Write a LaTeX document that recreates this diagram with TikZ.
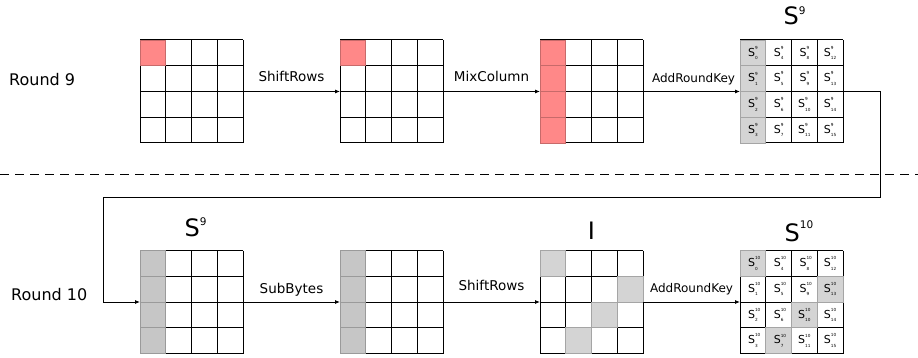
\documentclass[tikz,border=0pt]{standalone}
\usepackage{fontspec}
\setmainfont{DejaVu Sans}
\usetikzlibrary{arrows.meta}
\definecolor{redc}{RGB}{255,136,136}
\definecolor{grayA}{RGB}{198,198,198}
\definecolor{grayB}{RGB}{212,212,212}
\newcommand\cs[2]{S\rlap{\raisebox{0.62em}{\fontsize{4.2}{4.5}\selectfont #1}}\raisebox{-0.32em}{\fontsize{4.2}{4.5}\selectfont #2}}
\newcommand\gridlines[1]{%
  \begin{scope}[shift={(#1.north west)}]
    \foreach \i in {0,...,4} {
      \draw[cellline] (\i*25.75,0) -- (\i*25.75,103);
      \draw[cellline] (0,\i*25.75) -- (103,\i*25.75);
    }
  \end{scope}}
\newcommand\fillcell[4]{%
  \begin{scope}[shift={(#1.north west)}]
    \draw[fill=#4, draw=#4!78!black, line width=0.8pt] (#2*25.75,#3*25.75) rectangle ++(25.75,25.75);
  \end{scope}}
\begin{document}
\begin{tikzpicture}[x=1pt,y=-1pt,
  gridbox/.style={minimum size=103pt, inner sep=0pt, outer sep=0pt},
  cellline/.style={line width=1pt, black},
  conn/.style={line width=0.8pt, -{Latex[length=5pt,width=4pt]}},
  oplabel/.style={font=\fontsize{13.5}{14}\selectfont, anchor=base, inner sep=0pt},
  keylabel/.style={font=\fontsize{12}{13}\selectfont, anchor=base, inner sep=0pt},
  roundlabel/.style={font=\fontsize{16}{17}\selectfont, anchor=base west, inner sep=0pt},
  title/.style={font=\fontsize{24}{25}\selectfont, anchor=base west, inner sep=0pt},
  celltext/.style={font=\fontsize{11}{11}\selectfont, inner sep=0pt},
  sep/.style={line width=0.9pt, dash pattern=on 9pt off 6pt}
]
\path[use as bounding box] (0,0) rectangle (918,358);

% grid nodes
\node[gridbox] (g1) at (191.5,91.5) {};
\node[gridbox] (g2) at (391.5,91.5) {};
\node[gridbox] (g3) at (591.5,91.5) {};
\node[gridbox] (g4) at (791.5,91.5) {};
\node[gridbox] (g5) at (191.5,302) {};
\node[gridbox] (g6) at (391.5,302) {};
\node[gridbox] (g7) at (591.5,302) {};
\node[gridbox] (g8) at (791.5,302) {};

\foreach \g in {g1,g2,g3,g4,g5,g6,g7,g8} {\gridlines{\g}}

% shading
\fillcell{g1}{0}{0}{redc}
\fillcell{g2}{0}{0}{redc}
\foreach \r in {0,...,3} {\fillcell{g3}{0}{\r}{redc}}
\foreach \r in {0,...,3} {\fillcell{g4}{0}{\r}{grayB}}
\foreach \r in {0,...,3} {\fillcell{g5}{0}{\r}{grayA}}
\foreach \r in {0,...,3} {\fillcell{g6}{0}{\r}{grayA}}
\fillcell{g7}{0}{0}{grayB}
\fillcell{g7}{3}{1}{grayB}
\fillcell{g7}{2}{2}{grayB}
\fillcell{g7}{1}{3}{grayB}
\fillcell{g8}{0}{0}{grayB}
\fillcell{g8}{3}{1}{grayB}
\fillcell{g8}{2}{2}{grayB}
\fillcell{g8}{1}{3}{grayB}

% cell labels
\begin{scope}[shift={(g4.north west)}]
  \foreach \c in {0,...,3} {\foreach \r in {0,...,3} {
    \pgfmathtruncatemacro{\n}{\r+4*\c}
    \node[celltext] (a-\c-\r) at ({(\c+0.5)*25.75},{(\r+0.5)*25.75}) {\cs{9}{\n}};
  }}
\end{scope}
\begin{scope}[shift={(g8.north west)}]
  \foreach \c in {0,...,3} {\foreach \r in {0,...,3} {
    \pgfmathtruncatemacro{\n}{\r+4*\c}
    \node[celltext] (b-\c-\r) at ({(\c+0.5)*25.75},{(\r+0.5)*25.75}) {\cs{10}{\n}};
  }}
\end{scope}

% titles
\node[title] (t4) at (783.5,25) {S\raisebox{10pt}{\fontsize{10.5}{11}\selectfont 9}};
\node[title] (t5) at (184.5,236.7) {S\raisebox{11.5pt}{\fontsize{10.5}{11}\selectfont 9}};
\node[title, anchor=base] (t7) at (591.5,239.5) {I};
\node[title] (t8) at (784.5,241.7) {S\raisebox{13.5pt}{\fontsize{10.5}{11}\selectfont 10}};

% round labels
\node[roundlabel] (r9) at (9,85.7) {Round 9};
\node[roundlabel] (r10) at (11,300) {Round 10};

% connectors
\draw[conn] (g1.east) -- node[oplabel, midway, yshift=10pt] (l1) {ShiftRows} (g2.west);
\draw[conn] (g2.east) -- node[oplabel, midway, yshift=10pt] (l2) {MixColumn} (g3.west);
\draw[conn] (g3.east) -- node[keylabel, midway, yshift=8.5pt, xshift=2pt] (l3) {AddRoundKey} (g4.west);
\draw[conn] (g5.east) -- node[oplabel, midway, yshift=8.5pt] (l5) {SubBytes} (g6.west);
\draw[conn] (g6.east) -- node[oplabel, midway, yshift=12pt] (l6) {ShiftRows} (g7.west);
\draw[conn] (g7.east) -- node[keylabel, midway, yshift=10pt] (l7) {AddRoundKey} (g8.west);

\coordinate (c1) at (880.5,91.5);
\coordinate (c2) at (880.5,197.5);
\coordinate (c3) at (103,197.5);
\draw[conn] (g4.east) -- (c1) -- (c2) -- (c3) |- (g5.west);

% separator
\coordinate (d1) at (0,174);
\coordinate (d2) at (918,174);
\draw[sep] (d1) -- (d2);
\end{tikzpicture}
\end{document}
